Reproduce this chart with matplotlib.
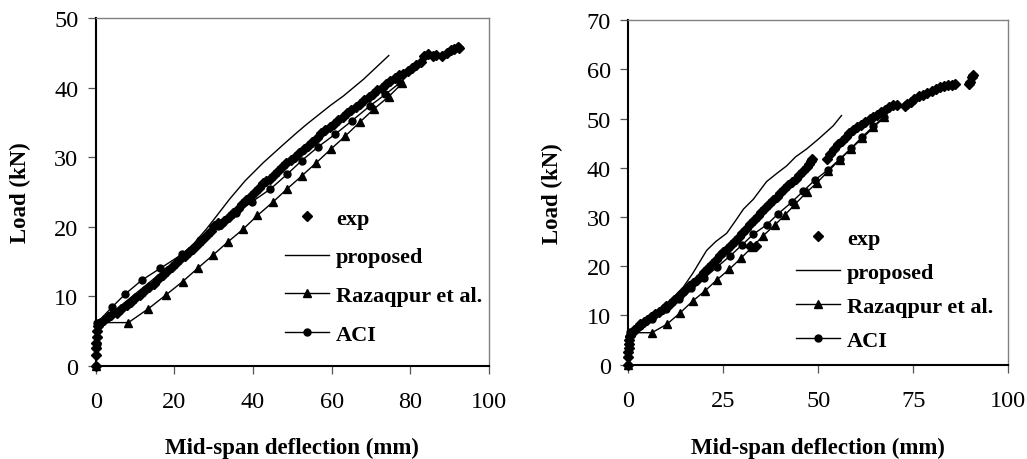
import matplotlib
matplotlib.use("Agg")
import matplotlib.pyplot as plt

# Beam 1 (left panel): mid-span deflection (mm) vs load (kN)
exp1_x = [0, 0, 0.1, 0.1, 0.2, 0.4, 0.7, 1.2, 2.0, 3.0, 4.0, 5.3, 6.4, 7.9, 9.0, 10.1,
          11.3, 12.4, 13.6, 14.7, 15.8, 17.0, 18.1, 19.3, 20.4, 21.5, 22.6, 23.7,
          24.8, 25.9, 27.0, 28.2, 29.2, 30.1, 31.0, 31.8, 32.7, 33.8, 35.0, 36.1,
          37.2, 38.3, 39.4, 40.5, 41.6, 42.5, 43.4, 44.3, 45.2, 46.3, 47.4, 48.5,
          49.6, 50.7, 51.8, 52.9, 54.0, 55.1, 56.2, 57.3, 58.4, 59.5, 60.6, 61.7,
          62.8, 63.9, 65.0, 66.1, 67.2, 68.3, 69.4, 70.5, 71.6, 72.7, 73.8, 74.9,
          76.0, 77.1, 78.2, 79.3, 80.4, 81.5, 82.6, 83.5, 84.4, 85.8, 86.5, 88.1,
          89.2, 90.2, 91.1, 92.0, 92.4]
exp1_y = [0, 1.5, 2.5, 3.3, 4.2, 5.0, 5.7, 6.2, 6.6, 7.0, 7.3, 7.6, 8.1, 8.7, 9.2, 9.7,
          10.2, 10.8, 11.3, 11.8, 12.5, 13.0, 13.6, 14.2, 14.8, 15.3, 15.8, 16.3,
          16.8, 17.5, 18.1, 18.8, 19.4, 20.1, 20.5, 20.4, 20.8, 21.4, 22.0, 22.6,
          23.2, 23.8, 24.4, 25.0, 25.6, 26.3, 26.6, 26.9, 27.4, 28.0, 28.6, 29.1,
          29.6, 30.0, 30.6, 31.1, 31.6, 32.2, 32.8, 33.4, 33.9, 34.3, 34.8, 35.3,
          35.8, 36.4, 36.7, 37.2, 37.7, 38.2, 38.6, 39.1, 39.6, 40.0, 40.5, 40.9,
          41.4, 41.8, 42.0, 42.4, 42.8, 43.3, 43.7, 44.6, 44.8, 44.5, 44.7, 44.5,
          45.0, 45.4, 45.6, 45.8, 45.7]
prop1_x = [0, 0.4, 2, 5, 10, 15, 20, 25, 28.2, 30, 34.1, 38, 42.6, 47.7, 51.1, 53.6,
           59.6, 63, 68.1, 74.5]
prop1_y = [0, 6.2, 6.8, 8.0, 10.3, 12.6, 15.0, 17.6, 19.7, 21.0, 24.0, 26.6, 29.2,
           31.8, 33.5, 34.7, 37.4, 38.8, 41.2, 44.6]
raz1_x = [0, 0.5, 8.3, 13.4, 17.9, 22.1, 25.9, 29.8, 33.6, 37.4, 41.1, 45.0, 48.6,
          52.4, 56.1, 59.7, 63.4, 67.1, 70.7, 74.5, 77.9]
raz1_y = [0, 6.2, 6.2, 8.2, 10.2, 12.1, 14.0, 15.9, 17.8, 19.6, 21.6, 23.5, 25.4,
          27.3, 29.2, 31.1, 33.0, 35.0, 36.9, 38.7, 40.6]
aci1_x = [0, 0.2, 0.4, 4.1, 7.5, 11.7, 16.4, 21.9, 26.6, 31.2, 35.6, 39.8, 44.4,
          48.6, 52.4, 56.6, 60.9, 65.1, 69.8, 73.6, 77.4]
aci1_y = [0, 3.1, 6.2, 8.4, 10.3, 12.3, 14.0, 16.0, 18.1, 20.1, 21.9, 23.6, 25.4,
          27.5, 29.5, 31.5, 33.3, 35.2, 37.4, 39.0, 40.7]

# Beam 2 (right panel)
exp2_x = [0, 0, 0, 0.1, 0.2, 0.3, 0.5, 0.9, 1.5, 2.3, 3.0, 4.0, 5.0, 6.0, 7.0, 8.0,
          9.0, 10.0, 11.0, 12.0, 13.0, 14.0, 15.0, 16.0, 17.0, 18.0, 19.0, 20.0,
          21.0, 22.0, 23.0, 24.0, 25.0, 26.0, 27.0, 28.0, 29.0, 30.0, 31.0, 32.0,
          32.0, 33.6, 33.0, 34.0, 35.0, 36.0, 37.0, 38.0, 39.0, 40.0, 41.0, 42.0,
          43.0, 44.0, 45.0, 46.0, 47.0, 47.6, 48.0, 48.3,
          52.2, 53.2, 54.2, 55.2, 56.2, 57.2, 58.2, 59.2, 60.1, 61.2, 62.3, 63.5,
          64.5, 65.5, 66.5, 67.6, 68.7, 69.7, 70.8, 72.8, 73.3, 74.3, 75.3, 76.5,
          77.6, 78.7, 79.8, 80.9, 82.0, 83.1, 84.2, 85.3, 86.0, 89.6, 90.0, 90.4,
          90.7]
exp2_y = [0, 1.5, 2.5, 3.3, 4.2, 5.0, 5.8, 6.5, 7.0, 7.5, 8.2, 8.6, 9.0, 9.6, 10.2,
          10.8, 11.4, 11.9, 12.4, 13.1, 13.8, 14.6, 15.2, 15.9, 16.6, 17.3, 18.1,
          18.8, 19.6, 20.4, 21.3, 22.2, 22.8, 23.5, 24.3, 25.2, 26.0, 26.8, 27.6,
          28.5, 24.2, 24.2, 29.4, 30.2, 31.0, 31.8, 32.6, 33.4, 34.1, 34.8, 35.6,
          36.4, 37.1, 37.8, 38.6, 39.3, 40.1, 40.8, 41.3, 41.8,
          41.8, 42.8, 43.8, 44.8, 45.5, 46.3, 47.0, 47.6, 48.3, 48.7, 49.3, 49.9,
          50.3, 50.8, 51.3, 51.7, 52.3, 52.8, 52.8, 52.6, 52.9, 53.4, 54.0, 54.5,
          54.8, 55.2, 55.5, 56.0, 56.3, 56.6, 56.8, 56.9, 57.0, 57.0, 57.5, 58.5,
          58.9]
prop2_x = [0, 0.2, 1.0, 3, 5.7, 8, 10, 12, 14.5, 17, 20.6, 23, 25.9, 28, 30.3, 32.9,
           36.4, 39, 41.7, 44, 46.9, 50, 53.9, 56.1]
prop2_y = [0, 5, 7, 8.2, 9.3, 10.8, 12.2, 13.8, 15.8, 18.6, 23.2, 25, 26.7, 29, 31.6,
           33.6, 37.2, 38.8, 40.4, 42.2, 43.8, 45.8, 48.5, 50.6]
raz2_x = [0, 0.3, 6.2, 10.1, 13.6, 16.9, 20.2, 23.4, 26.6, 29.6, 32.6, 35.5, 38.6,
          41.2, 43.9, 46.9, 49.7, 52.6, 55.6, 58.5, 61.6, 64.5, 67.4]
raz2_y = [0, 6.5, 6.5, 8.2, 10.5, 12.9, 15.0, 17.3, 19.4, 21.6, 23.9, 26.2, 28.4,
          30.4, 32.6, 35.0, 37.0, 39.3, 41.6, 43.8, 46.0, 48.2, 50.3]
aci2_x = [0, 0.2, 0.4, 3.0, 6.3, 9.8, 13.3, 16.6, 20.0, 23.3, 26.8, 29.9, 32.9, 36.4,
          39.5, 43.0, 46.1, 49.1, 52.6, 55.7, 58.7, 61.6, 64.5, 67.3]
aci2_y = [0, 3.3, 6.6, 7.8, 9.3, 11.3, 13.4, 15.5, 17.6, 19.8, 22.1, 24.3, 26.5, 28.4,
          30.7, 33.0, 35.3, 37.5, 39.6, 41.8, 44.0, 46.3, 48.4, 50.4]

labels = ["exp", "proposed", "Razaqpur et al.", "ACI"]

SERIF = "Liberation Serif"
plt.rcParams["font.family"] = SERIF

fig = plt.figure(figsize=(10.27, 4.6), dpi=100)
ax1 = fig.add_axes([0.0932, 0.2028, 0.383, 0.7559])
ax2 = fig.add_axes([0.6118, 0.2050, 0.370, 0.7493])


def draw(ax, exp, prop, raz, aci, ymax, xticks, leg_xy, leg_space, ylab_x, xlab_y):
    ax.plot(exp[0], exp[1], ls="none", marker="D", ms=5.0, color="black",
            clip_on=False, label=labels[0])
    ax.plot(prop[0], prop[1], color="black", lw=1.0, label=labels[1])
    ax.plot(raz[0], raz[1], color="black", lw=1.0, marker="^", ms=5.5,
            clip_on=False, label=labels[2])
    ax.plot(aci[0], aci[1], color="black", lw=1.0, marker="o", ms=5,
            clip_on=False, label=labels[3])

    ax.set_xlim(0, 100)
    ax.set_ylim(0, ymax)
    ax.set_xticks(xticks)
    ax.set_yticks(range(0, ymax + 1, 10))

    for side in ("left", "bottom"):
        ax.spines[side].set_color("black")
        ax.spines[side].set_linewidth(1.5)
    for side in ("top", "right"):
        ax.spines[side].set_color("#808080")
        ax.spines[side].set_linewidth(1.0)

    ax.tick_params(axis="both", direction="out", length=5.5, width=0.9,
                   color="#555555", labelsize=17.5)
    ax.tick_params(axis="x", pad=13)
    ax.tick_params(axis="y", pad=7)

    ax.set_xlabel("Mid-span deflection (mm)", fontsize=16.5, fontweight="bold")
    ax.set_ylabel("Load (kN)", fontsize=16.5, fontweight="bold")
    ax.xaxis.set_label_coords(0.5, xlab_y)
    ax.yaxis.set_label_coords(ylab_x, 0.5)

    ax.legend(loc="center left", bbox_to_anchor=leg_xy, frameon=False,
              prop={"family": SERIF, "weight": "bold", "size": 16},
              handlelength=2.0, handletextpad=0.3, labelspacing=leg_space,
              borderpad=0, borderaxespad=0, numpoints=1)


draw(ax1, (exp1_x, exp1_y), (prop1_x, prop1_y), (raz1_x, raz1_y),
     (aci1_x, aci1_y), 50, [0, 20, 40, 60, 80, 100], (0.481, 0.2566), 0.81,
     -0.1645, -0.204)
draw(ax2, (exp2_x, exp2_y), (prop2_x, prop2_y), (raz2_x, raz2_y),
     (aci2_x, aci2_y), 70, [0, 25, 50, 75, 100], (0.441, 0.2173), 0.60,
     -0.173, -0.208)

fig.savefig("out.png", dpi=100)
